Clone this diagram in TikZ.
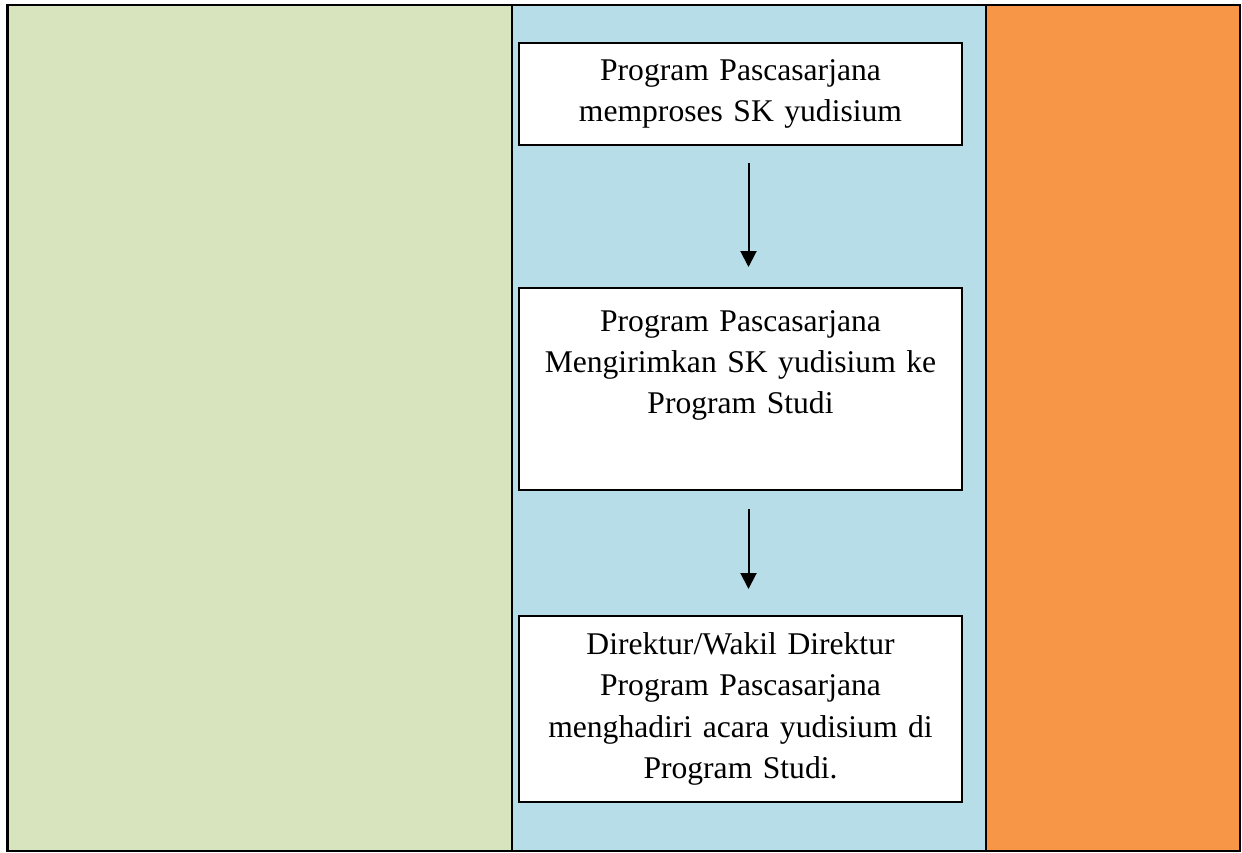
\documentclass[tikz,border=0pt]{standalone}
\usepackage{fontspec}
\setmainfont{Liberation Serif}
\usetikzlibrary{positioning,arrows.meta,shadows}
\definecolor{lanegreen}{HTML}{D7E4BD}
\definecolor{laneblue}{HTML}{B7DDE8}
\definecolor{laneorange}{HTML}{F79646}
\tikzset{
lane/.style={draw=black, line width=1pt},
procbox/.style={draw, fill=white, line width=1pt, text width=219pt, align=center,
  inner sep=0pt, minimum width=221.5pt,
  drop shadow={shadow xshift=0.4pt, shadow yshift=-0.4pt, opacity=.35},
  font=\fontsize{15.8}{20.6}\selectfont},
flow/.style={-{Triangle[width=8pt,length=8pt]}, line width=1pt}
}

\begin{document}
\begin{tikzpicture}[x=0.5pt,y=-0.5pt]
\useasboundingbox (0,0) rectangle (1242,852);
\coordinate (tl) at (7,5);
\coordinate (sa) at (512,5);
\coordinate (sb) at (986,5);
\coordinate (br) at (1240,851);

% lanes
\fill[lanegreen] (tl) rectangle (sa |- br);
\fill[laneblue] (sa) rectangle (sb |- br);
\fill[laneorange] (sb) rectangle (br);
\draw[lane] (tl) rectangle (br);
\draw[lane] (sa) -- (sa |- br) (sb) -- (sb |- br);
\draw[line width=1.5pt] (tl) -- (tl |- br);

% boxes
\node[procbox, minimum height=51pt] (proses) at (740.5,94)
  {Program Pascasarjana\\ memproses SK yudisium};
\node[procbox, minimum height=101pt, below=70.5pt of proses] (kirim)
  {Program Pascasarjana\\ Mengirimkan SK yudisium ke\\ Program Studi\\ \strut};
\node[procbox, minimum height=93pt, below=62pt of kirim] (hadir)
  {Direktur/Wakil Direktur\\ Program Pascasarjana\\ menghadiri acara yudisium di\\ Program Studi.};

\draw[flow, shorten <=8.5pt, shorten >=10pt] ([xshift=4pt]proses.south) -- ([xshift=4pt]kirim.north);
\draw[flow, shorten <=9pt, shorten >=13pt] ([xshift=4pt]kirim.south) -- ([xshift=4pt]hadir.north);
\end{tikzpicture}
\end{document}
